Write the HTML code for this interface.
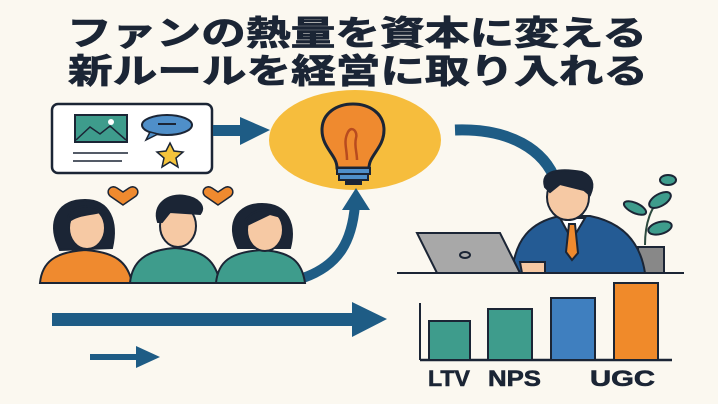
<!DOCTYPE html>
<html><head><meta charset="utf-8"><style>
html,body{margin:0;padding:0;background:#fbf8f0;}
svg{display:block}
</style></head><body>
<svg width="718" height="404" viewBox="0 0 718 404" xmlns="http://www.w3.org/2000/svg">
<rect width="718" height="404" fill="#fbf8f0"/>
<g font-family="'Liberation Sans','Noto Sans CJK JP',sans-serif" font-weight="bold" fill="#1b2535" stroke="#1b2535" stroke-width="0.8">
<text x="67" y="45" font-size="34" textLength="580" lengthAdjust="spacingAndGlyphs">ファンの熱量を資本に変える</text>
<text x="68" y="83" font-size="34" textLength="580" lengthAdjust="spacingAndGlyphs">新ルールを経営に取り入れる</text>
</g>
<!-- card -->
<rect x="52" y="104" width="160" height="69" rx="6" fill="#fff" stroke="#1b2535" stroke-width="2.5"/>
<rect x="75" y="115" width="52" height="27" fill="#3e9c8c" stroke="#1b2535" stroke-width="2"/>
<polyline points="76,140 90,127 100,134 110,126 126,140" fill="none" stroke="#1b2535" stroke-width="1.5"/>
<circle cx="111" cy="122" r="3" fill="#fff"/>
<ellipse cx="167" cy="125" rx="25" ry="10" fill="#4f8fc9" stroke="#1b2535" stroke-width="2"/>
<path d="M150,132 L146,140 L158,134Z" fill="#4f8fc9" stroke="#1b2535" stroke-width="1.5"/>
<line x1="158" y1="124" x2="176" y2="124" stroke="#1b2535" stroke-width="2"/>
<polygon points="170,143 174,151 183,152 176,158 178,167 170,162 162,167 164,158 157,152 166,151" fill="#f5c43c" stroke="#1b2535" stroke-width="1.5"/>
<line x1="73" y1="153" x2="128" y2="153" stroke="#1b2535" stroke-width="1.5"/>
<line x1="73" y1="161" x2="122" y2="161" stroke="#1b2535" stroke-width="1.5"/>
<!-- arrow to bulb -->
<rect x="213" y="125" width="30" height="11" fill="#1e5c85"/>
<polygon points="240,117 270,130 240,145" fill="#1e5c85"/>
<!-- bulb -->
<ellipse cx="355" cy="140" rx="86" ry="50" fill="#f6bd3d"/>
<path d="M337,168 C337,155 322,148 322,130 C322,113 337,104 353,104 C369,104 384,113 384,130 C384,148 369,155 369,168Z" fill="#ef8a2f" stroke="#1b2535" stroke-width="3"/>
<path d="M347,160 C347,148 343,142 348,132 C352,125 358,132 356,138 C354,146 357,152 357,160" fill="none" stroke="#b84b1f" stroke-width="2.5"/>
<rect x="337" y="168" width="33" height="6" fill="#4f8fc9" stroke="#1b2535" stroke-width="2"/>
<rect x="339" y="174" width="29" height="6" fill="#4f8fc9" stroke="#1b2535" stroke-width="2"/>
<rect x="345" y="180" width="17" height="5" fill="#1b2535"/>
<!-- arc to man -->
<path d="M455,130 C510,128 545,150 556,182" fill="none" stroke="#1e5c85" stroke-width="11"/>
<!-- curved arrow up -->
<path d="M303,278 C340,265 352,240 355,205" fill="none" stroke="#1e5c85" stroke-width="10"/>
<polygon points="342,210 356,188 370,210" fill="#1e5c85"/>
<!-- hearts -->
<path d="M123,205 L110,196 C105,191 111,184 117,188 L123,192 L129,188 C135,184 141,191 136,196Z" fill="#ef8a2f" stroke="#1b2535" stroke-width="1.5"/>
<path d="M218,205 L205,196 C200,191 206,184 212,188 L218,192 L224,188 C230,184 236,191 231,196Z" fill="#ef8a2f" stroke="#1b2535" stroke-width="1.5"/>
<!-- people -->
<g stroke="#1b2535" stroke-width="2">
<path d="M40,283 C42,262 55,252 85,250 C115,252 128,262 132,283Z" fill="#ef8a2f"/>
<path d="M56,240 C50,220 58,200 85,200 C110,200 118,222 112,248 L60,250Z" fill="#1b2535"/>
<ellipse cx="87" cy="228" rx="18" ry="21" fill="#f6c9a4"/>
<path d="M68,218 C70,205 95,202 105,214 L100,212 C90,215 78,214 68,222Z" fill="#1b2535"/>
<path d="M130,283 C132,262 145,250 175,248 C205,250 216,262 220,283Z" fill="#3e9c8c"/>
<ellipse cx="178" cy="226" rx="18" ry="21" fill="#f6c9a4"/>
<path d="M158,222 C152,205 168,193 185,196 C198,198 206,206 200,214 L170,212 L162,222Z" fill="#1b2535"/>
<path d="M216,283 C218,262 230,252 262,250 C292,252 302,262 305,283Z" fill="#3e9c8c"/>
<path d="M238,248 C226,225 236,204 262,204 C288,204 296,225 290,248Z" fill="#1b2535"/>
<ellipse cx="265" cy="230" rx="18" ry="21" fill="#f6c9a4"/>
<path d="M245,222 C250,208 275,205 285,218 L270,214 L245,226Z" fill="#1b2535"/>
</g>
<!-- big arrows -->
<rect x="52" y="313" width="305" height="13" fill="#1e5c85"/>
<polygon points="352,302 387,319 352,337" fill="#1e5c85"/>
<rect x="90" y="354" width="50" height="6" fill="#1e5c85"/>
<polygon points="136,346 160,357 136,368" fill="#1e5c85"/>
<!-- man scene -->
<g stroke="#1b2535" stroke-width="2">
<path d="M645,245 C645,225 650,205 665,195" fill="none" stroke="#2d4a3e"/>
<ellipse cx="660" cy="200" rx="12" ry="6" fill="#3e9c8c" transform="rotate(-30 660 200)"/>
<ellipse cx="668" cy="180" rx="8" ry="5" fill="#3e9c8c"/>
<ellipse cx="660" cy="228" rx="12" ry="6" fill="#3e9c8c" transform="rotate(-15 660 228)"/>
<ellipse cx="635" cy="208" rx="12" ry="5" fill="#3e9c8c" transform="rotate(25 635 208)"/>
<rect x="638" y="247" width="26" height="26" fill="#888"/>
<path d="M512,273 C515,240 530,222 560,216 L590,216 C620,222 640,240 645,273Z" fill="#245b94"/>
<path d="M560,218 L572,240 L585,218Z" fill="#fff"/>
<path d="M569,224 L575,224 L578,253 L572,260 L566,252Z" fill="#ef8a2f"/>
<ellipse cx="568" cy="197" rx="21" ry="23" fill="#f6c9a4"/>
<path d="M545,187 C540,170 560,168 582,172 C592,176 595,184 590,195 L584,190 L560,184 L550,192Z" fill="#1b2535"/>
<path d="M417,233 L500,233 L520,273 L437,273Z" fill="#a8a8a8"/>
<ellipse cx="465" cy="255" rx="5" ry="3" fill="none"/>
<path d="M520,262 L545,262 L545,273 L522,273Z" fill="#f6c9a4"/>
</g>
<line x1="397" y1="273" x2="684" y2="273" stroke="#1b2535" stroke-width="2"/>
<!-- chart -->
<line x1="420" y1="303" x2="420" y2="360" stroke="#1b2535" stroke-width="2"/>
<line x1="420" y1="360" x2="672" y2="360" stroke="#1b2535" stroke-width="2.5"/>
<g stroke="#1b2535" stroke-width="2">
<rect x="429" y="321" width="41" height="39" fill="#3e9c8c"/>
<rect x="488" y="309" width="44" height="51" fill="#3e9c8c"/>
<rect x="551" y="298" width="44" height="62" fill="#3f7fbf"/>
<rect x="614" y="283" width="44" height="77" fill="#f08a2a"/>
</g>
<g font-family="'Liberation Sans',sans-serif" font-weight="bold" font-size="22" fill="#1b2535" stroke="#1b2535" stroke-width="0.6">
<text x="428" y="386" textLength="42" lengthAdjust="spacingAndGlyphs">LTV</text>
<text x="488" y="386" textLength="53" lengthAdjust="spacingAndGlyphs">NPS</text>
<text x="590" y="386" textLength="65" lengthAdjust="spacingAndGlyphs">UGC</text>
</g>
</svg>
</body></html>
